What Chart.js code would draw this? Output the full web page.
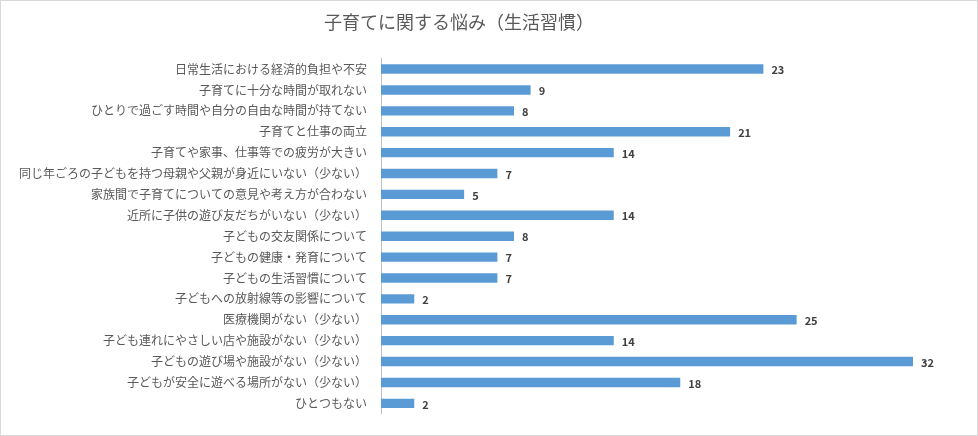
<!DOCTYPE html>
<html><head><meta charset="utf-8">
<script src="https://cdn.jsdelivr.net/npm/chart.js@4"></script>
<style>
html,body{margin:0;padding:0;background:#fff;}
#wrap{width:976px;height:434px;border:1px solid #d9d9d9;}
</style></head>
<body><div id="wrap"><canvas id="chart" width="976" height="434"></canvas></div>
<script>
const labels = [
  '日常生活における経済的負担や不安',
  '子育てに十分な時間が取れない',
  'ひとりで過ごす時間や自分の自由な時間が持てない',
  '子育てと仕事の両立',
  '子育てや家事、仕事等での疲労が大きい',
  '同じ年ごろの子どもを持つ母親や父親が身近にいない（少ない）',
  '家族間で子育てについての意見や考え方が合わない',
  '近所に子供の遊び友だちがいない（少ない）',
  '子どもの交友関係について',
  '子どもの健康・発育について',
  '子どもの生活習慣について',
  '子どもへの放射線等の影響について',
  '医療機関がない（少ない）',
  '子ども連れにやさしい店や施設がない（少ない）',
  '子どもの遊び場や施設がない（少ない）',
  '子どもが安全に遊べる場所がない（少ない）',
  'ひとつもない'
];
const counts = [23, 9, 8, 21, 14, 7, 5, 14, 8, 7, 7, 2, 25, 14, 32, 18, 2];

const font = "'Noto Sans CJK JP', 'Noto Sans', sans-serif";

const valueLabels = {
  id: 'valueLabels',
  afterDatasetsDraw(c) {
    const ctx = c.ctx;
    const meta = c.getDatasetMeta(0);
    ctx.save();
    ctx.font = 'bold 11px ' + font;
    ctx.fillStyle = '#404040';
    ctx.textBaseline = 'middle';
    meta.data.forEach((bar, i) => {
      ctx.fillText(counts[i], bar.x + 8, bar.y + 1);
    });
    ctx.restore();
  }
};

new Chart(document.getElementById('chart'), {
  type: 'bar',
  data: {
    labels,
    datasets: [{ data: counts, backgroundColor: '#5b9bd5', categoryPercentage: 1, barPercentage: 0.45 }]
  },
  options: {
    indexAxis: 'y',
    responsive: false,
    animation: false,
    layout: { padding: { left: 4, right: 64, bottom: 15 } },
    plugins: {
      legend: { display: false },
      tooltip: { enabled: false },
      title: {
        display: true,
        text: '子育てに関する悩み（生活習慣）',
        color: '#595959',
        font: { family: font, size: 18, weight: 'normal' },
        padding: { top: 10, bottom: 26 }
      }
    },
    scales: {
      x: { display: false, min: 0, max: 32 },
      y: {
        grid: { display: false, drawTicks: false },
        border: { color: '#bfbfbf' },
        ticks: { color: '#595959', font: { family: font, size: 12 }, padding: 14, autoSkip: false }
      }
    }
  },
  plugins: [valueLabels]
});
</script></body></html>
